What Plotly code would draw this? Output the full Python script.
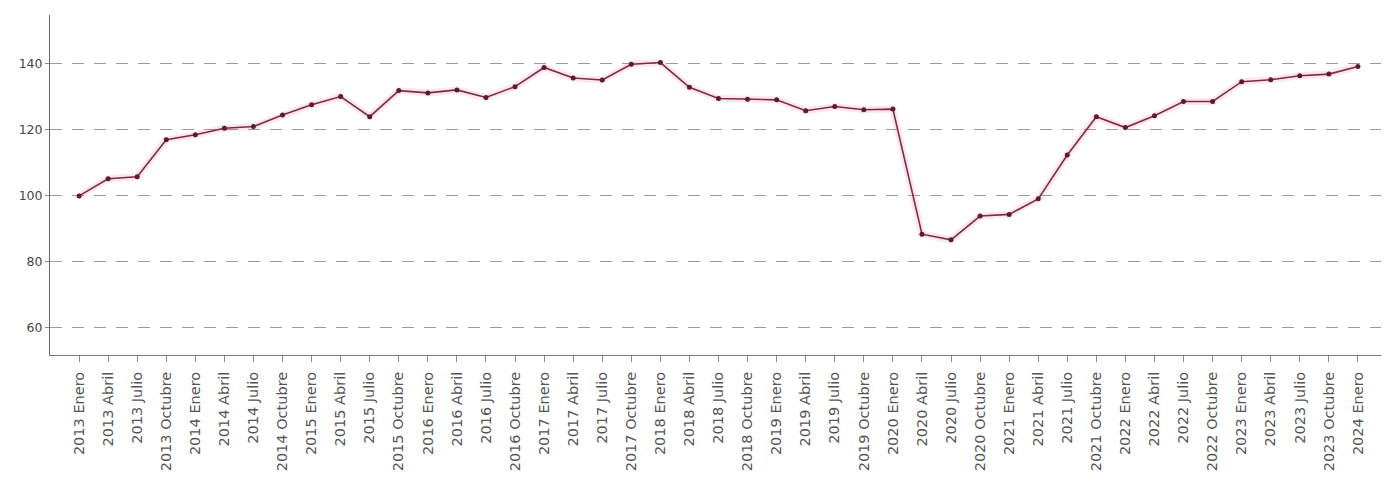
import plotly.graph_objects as go

categories = [
    "2013 Enero", "2013 Abril", "2013 Julio", "2013 Octubre",
    "2014 Enero", "2014 Abril", "2014 Julio", "2014 Octubre",
    "2015 Enero", "2015 Abril", "2015 Julio", "2015 Octubre",
    "2016 Enero", "2016 Abril", "2016 Julio", "2016 Octubre",
    "2017 Enero", "2017 Abril", "2017 Julio", "2017 Octubre",
    "2018 Enero", "2018 Abril", "2018 Julio", "2018 Octubre",
    "2019 Enero", "2019 Abril", "2019 Julio", "2019 Octubre",
    "2020 Enero", "2020 Abril", "2020 Julio", "2020 Octubre",
    "2021 Enero", "2021 Abril", "2021 Julio", "2021 Octubre",
    "2022 Enero", "2022 Abril", "2022 Julio", "2022 Octubre",
    "2023 Enero", "2023 Abril", "2023 Julio", "2023 Octubre",
    "2024 Enero",
]
values = [
    100.0, 105.2, 105.8, 117.0,
    118.5, 120.5, 121.0, 124.5,
    127.6, 130.1, 124.0, 131.9,
    131.2, 132.1, 129.8, 133.1,
    138.9, 135.7, 135.1, 139.9,
    140.4, 132.9, 129.5, 129.3,
    129.1, 125.8, 127.1, 126.1,
    126.3, 88.4, 86.7, 93.9,
    94.4, 99.1, 112.4, 124.0,
    120.7, 124.3, 128.6, 128.6,
    134.6, 135.2, 136.4, 136.9,
    139.2,
]
y_ticks = [60, 80, 100, 120, 140]

fig = go.Figure()
# soft glow under the line
fig.add_trace(go.Scatter(
    x=categories, y=values, mode="lines",
    line=dict(color="rgba(240,120,150,0.18)", width=7),
    hoverinfo="skip", showlegend=False,
))
fig.add_trace(go.Scatter(
    x=categories, y=values, mode="lines+markers",
    line=dict(color="#7d2a44", width=1.6),
    marker=dict(color="#5e1a30", size=5),
    showlegend=False,
))

fig.update_layout(
    width=1381, height=473,
    margin=dict(l=42, r=2, t=7, b=126, autoexpand=False),
    plot_bgcolor="white", paper_bgcolor="white",
    font=dict(family="DejaVu Sans, sans-serif", color="#444"),
)
fig.update_xaxes(
    type="category",
    range=[-1, len(categories)],
    tickangle=-90,
    tickfont=dict(size=14.5, color="#555"),
    ticks="outside", ticklen=6, tickcolor="#888",
    ticklabelstandoff=4,
    showline=True, linecolor="#777", linewidth=1,
    showgrid=False, automargin=False,
)
fig.update_yaxes(
    range=[51.8, 154.8],
    tickvals=y_ticks,
    tickfont=dict(size=12.5, color="#444"),
    ticks="outside", ticklen=4, tickcolor="#888",
    showline=True, linecolor="#666", linewidth=1,
    showgrid=True, gridcolor="#9a9a9a", gridwidth=1, griddash="12px,10px",
    zeroline=False, automargin=False,
)

fig.write_html("out.html")
